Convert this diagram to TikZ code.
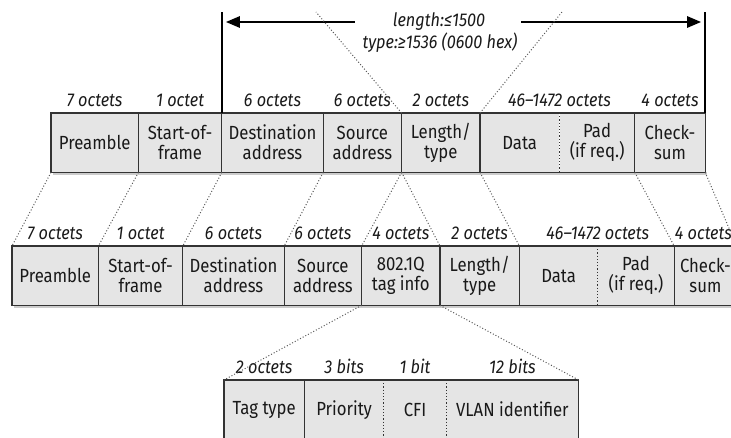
\documentclass[tikz,border=0pt]{standalone}
\usepackage{fontspec}
\setmainfont{Fira Sans}[FakeStretch=0.88]
\usepackage{tikz}
\usetikzlibrary{positioning,arrows.meta}

\begin{document}
\begin{tikzpicture}[x=1pt, y=-1pt,
  field/.style={fill=gray!20, minimum height=59pt, inner sep=0pt, align=center,
                font=\fontsize{19}{20}\selectfont, text=black!90},
  oct/.style={font=\fontsize{18.5}{20}\selectfont\itshape, inner sep=1pt, text=black!90},
  frame/.style={draw=black!80, line width=1.4pt},
  sep/.style={draw=black!80, line width=1.2pt},
  dsep/.style={draw=black!80, line width=1.2pt, dotted},
  link/.style={draw=black!65, line width=1pt, dotted},
  bar/.style={draw=black, line width=2.4pt},
  arr/.style={-{Triangle[length=14pt,width=11pt]}, line width=2.6pt, shorten >=4pt},
  shade/.style={fill=gray!40}
]
\useasboundingbox (0,0) rectangle (731,438);

% Ethernet frame
\node[field, anchor=north west, minimum width=87pt] (pre1) at (51,113) {Preamble};
\node[field, minimum width=83pt, right=0pt of pre1] (sof1) {Start-of-\\frame};
\node[field, minimum width=101pt, right=0pt of sof1] (dst1) {Destination\\address};
\node[field, minimum width=78pt, right=0pt of dst1] (src1) {Source\\address};
\node[field, minimum width=78pt, right=0pt of src1] (len1) {Length/\\type};
\node[field, minimum width=79pt, right=0pt of len1] (data1) {Data};
\node[field, minimum width=75pt, right=0pt of data1] (pad1) {Pad\\(if req.)};
\node[field, minimum width=70pt, right=0pt of pad1] (chk1) {Check-\\sum};

\fill[shade] ([xshift=2pt]pre1.south west) rectangle ([xshift=2pt,yshift=-3pt]chk1.south east);
\draw[sep] (sof1.north west) -- (sof1.south west) (dst1.north west) -- (dst1.south west)
  (src1.north west) -- (src1.south west) (len1.north west) -- (len1.south west)
  (data1.north west) -- (data1.south west) (chk1.north west) -- (chk1.south west);
\draw[dsep] (pad1.north west) -- (pad1.south west);
\draw[frame] (pre1.north west) rectangle (chk1.south east);

\node[oct, above=5pt of pre1] {7 octets};
\node[oct, above=5pt of sof1] {1 octet};
\node[oct, above=5pt of dst1] {6 octets};
\node[oct, above=5pt of src1] {6 octets};
\node[oct, above=5pt of len1] {2 octets};
\node[oct, above=5pt of data1.north east] {46--1472 octets};
\node[oct, above=5pt of chk1] {4 octets};

% Length/type range
\node[oct] (lenlbl) at (439,22) {length:≤1500};
\node[oct] (typelbl) at (440,43) {type:≥1536 (0600 hex)};
\coordinate (lenL) at (316,12);
\coordinate (lenR) at (562,12);
\draw[bar] (dst1.north west) -- (dst1.north west |- lenL);
\draw[bar] (chk1.north east) -- (chk1.north east |- lenR);
\draw[arr] ([xshift=-37pt]lenlbl.west) -- (lenlbl.west -| dst1.north west);
\draw[arr] ([xshift=35pt]lenlbl.east) -- (lenlbl.east -| chk1.north east);
\draw[link] (len1.north west) -- (lenL);
\draw[link] (len1.north east) -- (lenR);

% Tagged frame
\node[field, anchor=north west, minimum width=86pt] (pre2) at (12,246) {Preamble};
\node[field, minimum width=84pt, right=0pt of pre2] (sof2) {Start-of-\\frame};
\node[field, minimum width=101pt, right=0pt of sof2] (dst2) {Destination\\address};
\node[field, minimum width=77pt, right=0pt of dst2] (src2) {Source\\address};
\node[field, minimum width=78pt, right=0pt of src2] (tag2) {802.1Q\\tag info};
\node[field, minimum width=79pt, right=0pt of tag2] (len2) {Length/\\type};
\node[field, minimum width=78pt, right=0pt of len2] (data2) {Data};
\node[field, minimum width=76pt, right=0pt of data2] (pad2) {Pad\\(if req.)};
\node[field, minimum width=62pt, right=0pt of pad2] (chk2) {Check-\\sum};

\fill[shade] ([xshift=2pt]pre2.south west) rectangle ([xshift=2pt,yshift=-3pt]chk2.south east);
\draw[sep] (sof2.north west) -- (sof2.south west) (dst2.north west) -- (dst2.south west)
  (src2.north west) -- (src2.south west) (tag2.north west) -- (tag2.south west)
  (len2.north west) -- (len2.south west) (data2.north west) -- (data2.south west)
  (chk2.north west) -- (chk2.south west);
\draw[dsep] (pad2.north west) -- (pad2.south west);
\draw[frame] (pre2.north west) rectangle (chk2.south east);

\node[oct, above=5pt of pre2] {7 octets};
\node[oct, above=5pt of sof2] {1 octet};
\node[oct, above=5pt of dst2] {6 octets};
\node[oct, above=5pt of src2] {6 octets};
\node[oct, above=5pt of tag2] {4 octets};
\node[oct, above=5pt of len2] {2 octets};
\node[oct, above=5pt of data2.north east] {46--1472 octets};
\node[oct, above=5pt of chk2, xshift=-2pt] {4 octets};

\draw[link] (pre1.south west) -- (pre2.north west);
\draw[link] (sof1.south west) -- (sof2.north west);
\draw[link] (dst1.south west) -- (dst2.north west);
\draw[link] (src1.south west) -- (src2.north west);
\draw[link] (len1.south west) -- (tag2.north west);
\draw[link] (len1.south west) -- (len2.north west);
\draw[link] (data1.south west) -- (data2.north west);
\draw[link] (chk1.south west) -- (chk2.north west);
\draw[link] (chk1.south east) -- (chk2.north east);

% Tag info
\node[field, anchor=north west, minimum width=80pt] (ttype) at (224,380) {Tag type};
\node[field, minimum width=79pt, right=0pt of ttype] (prio) {Priority};
\node[field, minimum width=62pt, right=0pt of prio] (cfi) {CFI};
\node[field, minimum width=132pt, right=0pt of cfi] (vlan) {VLAN identifier};

\draw[sep] (prio.north west) -- (prio.south west);
\draw[dsep] (cfi.north west) -- (cfi.south west) (vlan.north west) -- (vlan.south west);
\draw[frame] (ttype.north west) rectangle (vlan.south east);

\node[oct, above=5pt of ttype] {2 octets};
\node[oct, above=5pt of prio] {3 bits};
\node[oct, above=5pt of cfi] {1 bit};
\node[oct, above=5pt of vlan] {12 bits};

\draw[link] (tag2.south west) -- (ttype.north west);
\draw[link] (tag2.south east) -- (vlan.north east);
\end{tikzpicture}
\end{document}
